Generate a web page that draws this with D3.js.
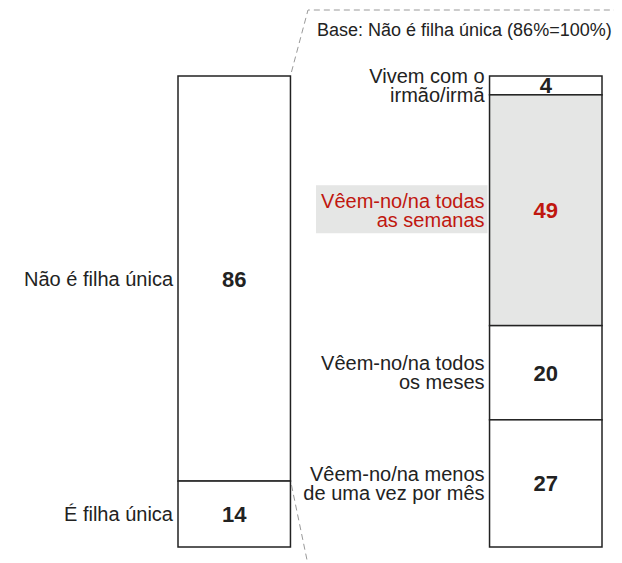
<!DOCTYPE html>
<html>
<head>
<meta charset="utf-8">
<script src="https://cdn.jsdelivr.net/npm/d3@7"></script>
<style>
  body { margin: 0; background: #fff; }
  svg { display: block; font-family: "Liberation Sans", Arial, sans-serif; }
</style>
</head>
<body>
<svg></svg>
<script>
const W = 622, H = 563,
  BASE_NOTE = "Base: Não é filha única (86%=100%)",
  RED = "#c0170f",
  HILITE = "#e5e6e5";

// left bar
const leftCats = ["Não é filha única", "É filha única"];
const leftVals = [86, 14];

// right bar (breakdown of "Não é filha única")
const rightCats = [
  ["Vivem com o", "irmão/irmã"],
  ["Vêem-no/na todas", "as semanas"],
  ["Vêem-no/na todos", "os meses"],
  ["Vêem-no/na menos", "de uma vez por mês"]
];
const rightVals = [4, 49, 20, 27];
const highlight = 1;

const svg = d3.select("svg").attr("width", W).attr("height", H);

const y = d3.scaleLinear().domain([0, 100]).range([76, 547]);
const xBars = d3.scaleBand().domain(["left", "right"]).range([178, 602]).paddingInner(0.639);

function stack(vals) {
  let acc = 0;
  return vals.map((v, i) => {
    const d = { i: i, v: v, y0: acc, y1: acc + v };
    acc += v;
    return d;
  });
}

function drawBar(key, vals, labels, hi) {
  const x0 = xBars(key), bw = xBars.bandwidth();
  const g = svg.append("g");
  const data = stack(vals);

  // highlight behind label
  data.filter(d => d.i === hi).forEach(d => {
    const cy = (y(d.y0) + y(d.y1)) / 2;
    g.append("rect")
      .attr("x", 316)
      .attr("y", cy - 25)
      .attr("width", x0 - 2 - 316)
      .attr("height", 48)
      .attr("fill", HILITE);
  });

  g.selectAll("rect.seg")
    .data(data)
    .enter()
    .append("rect")
    .attr("class", "seg")
    .attr("x", x0)
    .attr("y", d => y(d.y0))
    .attr("width", bw)
    .attr("height", d => y(d.y1) - y(d.y0))
    .attr("fill", d => d.i === hi ? HILITE : "#fff")
    .attr("stroke", "#222")
    .attr("stroke-width", 1.5);

  g.selectAll("text.val")
    .data(data)
    .enter()
    .append("text")
    .attr("class", "val")
    .attr("x", x0 + bw / 2)
    .attr("y", d => (y(d.y0) + y(d.y1)) / 2 + 8)
    .attr("text-anchor", "middle")
    .attr("font-size", "22px")
    .attr("font-weight", "bold")
    .attr("fill", d => d.i === hi ? RED : "#222")
    .text(d => d.v);

  data.forEach(d => {
    const lines = [].concat(labels[d.i]),
      cy = (y(d.y0) + y(d.y1)) / 2,
      lh = 19,
      first = cy + 7 - (lines.length - 1) * lh / 2;
    const t = g.append("text")
      .attr("text-anchor", "end")
      .attr("font-size", "20px")
      .attr("fill", d.i === hi ? RED : "#222");
    lines.forEach((l, k) => {
      t.append("tspan")
        .attr("x", x0 - 5)
        .attr("y", first + k * lh)
        .text(l);
    });
  });
}

drawBar("left", leftVals, leftCats, -1);
drawBar("right", rightVals, rightCats, highlight);

// dashed connector
const lx = xBars("left") + xBars.bandwidth();
svg.append("path")
  .attr("d", "M" + (lx + 1) + "," + (y(0) - 4) + "L308,10L614,10")
  .attr("fill", "none")
  .attr("stroke", "#999")
  .attr("stroke-width", 1)
  .attr("stroke-dasharray", "6,4");
svg.append("path")
  .attr("d", "M" + (lx + 1) + "," + (y(86) + 4) + "L307,560")
  .attr("fill", "none")
  .attr("stroke", "#999")
  .attr("stroke-width", 1)
  .attr("stroke-dasharray", "6,4");

svg.append("text")
  .attr("x", 317)
  .attr("y", 36)
  .attr("font-size", "18px")
  .attr("fill", "#222")
  .text(BASE_NOTE);
</script>
</body>
</html>
